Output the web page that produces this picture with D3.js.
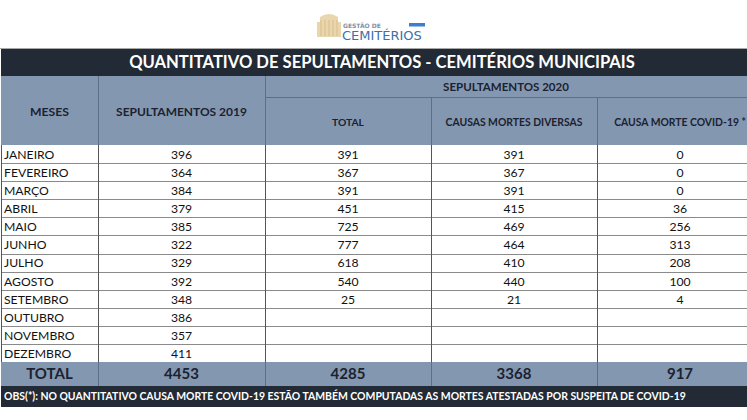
<!DOCTYPE html>
<html>
<head>
<meta charset="utf-8">
<script src="https://cdn.jsdelivr.net/npm/d3@7"></script>
<style>
  body { margin: 0; background: #fff; }
  svg { display: block; font-family: Lato, "Open Sans", sans-serif; }
</style>
</head>
<body>
<div id="table"></div>
<script>
// data
const months = ["JANEIRO", "FEVEREIRO", "MARÇO", "ABRIL", "MAIO", "JUNHO", "JULHO",
  "AGOSTO", "SETEMBRO", "OUTUBRO", "NOVEMBRO", "DEZEMBRO"];
const sep2019 = [396, 364, 384, 379, 385, 322, 329, 392, 348, 386, 357, 411];
const total2020 = [391, 367, 391, 451, 725, 777, 618, 540, 25, null, null, null];
const diversas2020 = [391, 367, 391, 415, 469, 464, 410, 440, 21, null, null, null];
const covid2020 = [0, 0, 0, 36, 256, 313, 208, 100, 4, null, null, null];
const columns = ["MESES", "SEPULTAMENTOS 2019", "TOTAL", "CAUSAS MORTES DIVERSAS", "CAUSA MORTE COVID-19 *"];

const title = "QUANTITATIVO DE SEPULTAMENTOS - CEMITÉRIOS MUNICIPAIS";
const obs = "OBS(*): NO QUANTITATIVO CAUSA MORTE COVID-19 ESTÃO TAMBÉM COMPUTADAS AS MORTES ATESTADAS POR SUSPEITA DE COVID-19";

const width = 747, height = 420;
const dark = "#222a35", blue = "#8497b0", ink = "#1b2230";

// column edges (layout) - last column runs past the window edge
const edges = [1, 98, 265, 431, 597, 763];
const mid = i => (edges[i] + edges[i + 1]) / 2;
const headWidths = [39, 131, 32, 137, 132]; // text widths measured on the picture

const rowsY = {title: 49, head: 76, sub: 97, body: 145, total: 362, obs: 386, end: 407};

// scale a text's font so it spans w pixels
function fit(sel, w) {
  sel.each(function(d, i) {
    let target = typeof w === "function" ? w(d, i) : w;
    let fs = parseFloat(window.getComputedStyle(this).fontSize);
    let len = this.getComputedTextLength();
    d3.select(this).attr("font-size", fs * target / len);
  });
}

let svg = d3.select("#table").append("svg")
  .attr("width", width).attr("height", height)
  .attr("viewBox", [0, 0, width, height]);

let y = d3.scaleBand()
  .domain(months)
  .range([rowsY.body, rowsY.total]);

/* logo */
let logo = svg.append("g");
logo.append("rect").attr("x", 317).attr("y", 22).attr("width", 24).attr("height", 15).attr("fill", "#ead6ae");
logo.append("path").attr("d", "M320,22 L320,17 Q329,11 338,17 L338,22 Z").attr("fill", "#ead6ae");
logo.append("g").selectAll("line").data(d3.range(5)).join("line")
  .attr("x1", d => 321 + d * 4).attr("x2", d => 321 + d * 4)
  .attr("y1", 20).attr("y2", 36)
  .attr("stroke", "#d8bd8a").attr("stroke-width", 1);
logo.append("text").attr("x", 343).attr("y", 27.5)
  .attr("font-family", "DejaVu Sans").attr("font-size", 6).attr("font-weight", "bold")
  .attr("fill", "#8190a5").text("GESTÃO DE");
logo.append("text").attr("x", 342).attr("y", 39.5)
  .attr("font-family", "DejaVu Sans").attr("font-size", 13)
  .attr("fill", "#3b70ab").text("CEMITÉRIOS");
logo.append("rect").attr("x", 409).attr("y", 23).attr("width", 16).attr("height", 3.5).attr("fill", "#3b7fd0");
svg.append("line").attr("x1", 0).attr("x2", width).attr("y1", 48.5).attr("y2", 48.5)
  .attr("stroke", "#a8a8a8");

/* title bar */
svg.append("rect").attr("x", edges[0]).attr("y", rowsY.title)
  .attr("width", width - edges[0]).attr("height", rowsY.head - rowsY.title).attr("fill", dark);
svg.append("text").attr("x", (edges[0] + edges[5]) / 2).attr("y", (rowsY.title + rowsY.head) / 2)
  .attr("dy", "0.36em").attr("text-anchor", "middle")
  .attr("font-size", 17).attr("font-weight", "bold").attr("fill", "#fff")
  .text(title)
  .call(fit, 506);

/* header */
svg.append("rect").attr("x", edges[0]).attr("y", rowsY.head)
  .attr("width", width - edges[0]).attr("height", rowsY.body - rowsY.head).attr("fill", blue);

let hl = svg.append("g").attr("stroke", "#5f6f85").attr("stroke-width", 1);
hl.append("line").attr("x1", edges[2]).attr("x2", width).attr("y1", rowsY.sub + 0.5).attr("y2", rowsY.sub + 0.5);
[1, 2].forEach(i => hl.append("line").attr("x1", edges[i] + 0.5).attr("x2", edges[i] + 0.5)
  .attr("y1", rowsY.head).attr("y2", rowsY.body));
[3, 4].forEach(i => hl.append("line").attr("x1", edges[i] + 0.5).attr("x2", edges[i] + 0.5)
  .attr("y1", rowsY.sub).attr("y2", rowsY.body));

let head = svg.append("g").attr("font-weight", "bold").attr("font-size", 12)
  .attr("fill", ink).attr("text-anchor", "middle");
head.selectAll("text.col").data(columns).join("text")
  .attr("class", "col")
  .attr("x", (d, i) => mid(i))
  .attr("y", (d, i) => i < 2 ? (rowsY.head + rowsY.body) / 2 + 1 : (rowsY.sub + rowsY.body) / 2 + 1)
  .attr("dy", "0.36em")
  .text(d => d)
  .call(fit, (d, i) => headWidths[i]);
head.append("text").attr("x", (edges[2] + width) / 2).attr("y", (rowsY.head + rowsY.sub) / 2 + 0.5)
  .attr("dy", "0.36em").text("SEPULTAMENTOS 2020")
  .call(fit, 126);

/* body rows */
const rows = months.map((m, i) => [m, sep2019[i], total2020[i], diversas2020[i], covid2020[i]]);

let body = svg.append("g").attr("font-size", 12.2).attr("fill", "#111");
let row = body.selectAll("g.row").data(rows).join("g")
  .attr("class", "row")
  .attr("transform", d => `translate(0,${y(d[0])})`);

row.selectAll("text").data(d => d).join("text")
  .attr("x", (d, i) => i === 0 ? edges[0] + 3 : mid(i))
  .attr("y", y.bandwidth() / 2 + 0.5)
  .attr("dy", "0.36em")
  .attr("text-anchor", (d, i) => i === 0 ? "start" : "middle")
  .text(d => d === null ? "" : d);

// grid lines
svg.append("g").attr("stroke", "#8a8a8a").attr("stroke-width", 1)
  .selectAll("line").data(months.slice(1)).join("line")
  .attr("x1", edges[0]).attr("x2", width)
  .attr("y1", d => Math.round(y(d)) + 0.5).attr("y2", d => Math.round(y(d)) + 0.5);

svg.append("g").attr("stroke", "#555").attr("stroke-width", 1)
  .selectAll("line").data(edges.slice(0, 5)).join("line")
  .attr("x1", d => d + 0.5).attr("x2", d => d + 0.5)
  .attr("y1", rowsY.body).attr("y2", rowsY.obs);

/* total row */
svg.append("rect").attr("x", edges[0]).attr("y", rowsY.total)
  .attr("width", width - edges[0]).attr("height", rowsY.obs - rowsY.total).attr("fill", blue);
svg.append("g").attr("stroke", "#5f6f85")
  .selectAll("line").data(edges.slice(1, 5)).join("line")
  .attr("x1", d => d + 0.5).attr("x2", d => d + 0.5)
  .attr("y1", rowsY.total).attr("y2", rowsY.obs);

const totals = ["TOTAL", d3.sum(sep2019), d3.sum(total2020), d3.sum(diversas2020), d3.sum(covid2020)];
svg.append("g").attr("font-size", 15).attr("font-weight", "bold").attr("fill", ink)
  .attr("text-anchor", "middle")
  .selectAll("text").data(totals).join("text")
  .attr("x", (d, i) => mid(i))
  .attr("y", (rowsY.total + rowsY.obs) / 2)
  .attr("dy", "0.36em")
  .text(d => d);

/* obs row */
svg.append("rect").attr("x", edges[0]).attr("y", rowsY.obs)
  .attr("width", width - edges[0]).attr("height", rowsY.end - rowsY.obs).attr("fill", dark);
svg.append("text").attr("x", edges[0] + 3).attr("y", (rowsY.obs + rowsY.end) / 2)
  .attr("dy", "0.36em").attr("font-size", 11).attr("font-weight", "bold").attr("fill", "#fff")
  .text(obs)
  .call(fit, 682);
</script>
</body>
</html>
